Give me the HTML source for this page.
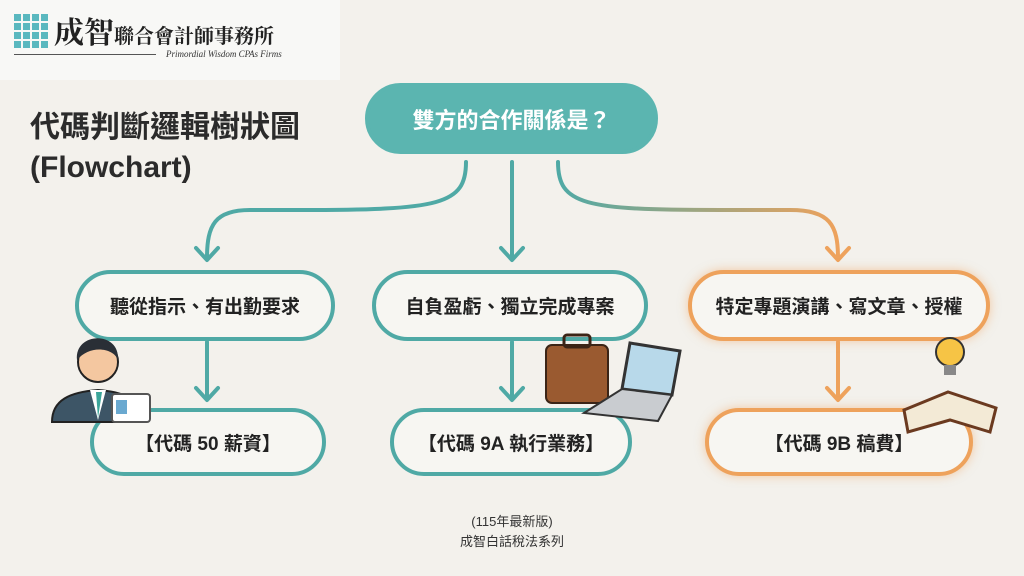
<!DOCTYPE html>
<html><head><meta charset="utf-8"><style>
body{margin:0;width:1024px;height:576px;background:#f3f1ec;font-family:"Liberation Sans","Noto Sans CJK TC",sans-serif;overflow:hidden;position:relative}
.b{position:absolute;box-sizing:border-box;border:4px solid #4fa9a5;border-radius:40px;background:#f7f6f2;display:flex;align-items:center;justify-content:center;font-weight:bold;font-size:19px;color:#222}
.o{border-color:#eea25c;box-shadow:0 0 10px rgba(240,160,90,.5)}
</style></head><body>
<div style="position:absolute;left:0;top:0;width:340px;height:80px;background:#f8f8f6"></div>
<svg style="position:absolute;left:14px;top:14px" width="34" height="34">
<g fill="#5ab8bf">
<rect x="0" y="0" width="7" height="7"/><rect x="9" y="0" width="7" height="7"/><rect x="18" y="0" width="7" height="7"/><rect x="27" y="0" width="7" height="7"/>
<rect x="0" y="9" width="7" height="7"/><rect x="9" y="9" width="7" height="7"/><rect x="18" y="9" width="7" height="7"/><rect x="27" y="9" width="7" height="7"/>
<rect x="0" y="18" width="7" height="7"/><rect x="9" y="18" width="7" height="7"/><rect x="18" y="18" width="7" height="7"/><rect x="27" y="18" width="7" height="7"/>
<rect x="0" y="27" width="7" height="7"/><rect x="9" y="27" width="7" height="7"/><rect x="18" y="27" width="7" height="7"/><rect x="27" y="27" width="7" height="7"/></g></svg>
<div style="position:absolute;left:54px;top:12px;font-family:'Noto Serif CJK SC',serif;font-size:30px;font-weight:bold;color:#222;line-height:36px">成智<span style="font-size:20px">聯合會計師事務所</span></div>
<div style="position:absolute;left:14px;top:54px;width:142px;border-top:1px solid #555"></div>
<div style="position:absolute;left:166px;top:49px;font-family:'Liberation Serif',serif;font-style:italic;font-size:9px;color:#333">Primordial Wisdom CPAs Firms</div>
<div style="position:absolute;left:30px;top:108px;font-size:30px;font-weight:bold;color:#2b2b2b;line-height:40px">代碼判斷邏輯樹狀圖<br>(Flowchart)</div>
<svg style="position:absolute;left:0;top:0" width="1024" height="576">
<defs><linearGradient id="g" x1="0" x2="1"><stop offset="0" stop-color="#4fa9a5"/><stop offset="1" stop-color="#eea25c"/></linearGradient></defs>
<g fill="none" stroke-width="4" stroke-linecap="round" stroke-linejoin="round">
<path d="M466 162 C466 205 440 210 300 210 L250 210 C215 210 207 225 207 258" stroke="#4fa9a5"/>
<path d="M196 248 L207 260 L218 248" stroke="#4fa9a5"/>
<path d="M512 162 L512 258 M501 248 L512 260 L523 248" stroke="#4fa9a5"/>
<path d="M558 162 C558 205 584 210 720 210 L790 210 C830 210 838 225 838 258" stroke="url(#g)"/>
<path d="M827 248 L838 260 L849 248" stroke="#eea25c"/>
<path d="M207 342 L207 398 M196 388 L207 400 L218 388" stroke="#4fa9a5"/>
<path d="M512 342 L512 398 M501 388 L512 400 L523 388" stroke="#4fa9a5"/>
<path d="M838 342 L838 398 M827 388 L838 400 L849 388" stroke="#eea25c"/>
</g></svg>
<div class="b" style="left:365px;top:83px;width:293px;height:71px;background:#5bb5b0;border-color:#5bb5b0;color:#fff;font-size:22px">雙方的合作關係是？</div>
<div class="b" style="left:75px;top:270px;width:260px;height:71px">聽從指示、有出勤要求</div>
<div class="b" style="left:372px;top:270px;width:276px;height:71px">自負盈虧、獨立完成專案</div>
<div class="b o" style="left:688px;top:270px;width:302px;height:71px">特定專題演講、寫文章、授權</div>
<div class="b" style="left:90px;top:408px;width:236px;height:68px">【代碼 50 薪資】</div>
<div class="b" style="left:390px;top:408px;width:242px;height:68px">【代碼 9A 執行業務】</div>
<div class="b o" style="left:705px;top:408px;width:268px;height:68px">【代碼 9B 稿費】</div>
<!-- person -->
<svg style="position:absolute;left:50px;top:322px" width="105" height="105">
<path d="M2 100 C2 78 20 70 48 68 C76 70 92 78 92 100 Z" fill="#3d5566" stroke="#222" stroke-width="2"/>
<path d="M40 68 L48 98 L56 68 Z" fill="#fff"/><path d="M46 70 L48 96 L52 70Z" fill="#3ba59a"/>
<circle cx="48" cy="40" r="20" fill="#f4c7a0" stroke="#222" stroke-width="2"/>
<path d="M27 38 C24 10 70 8 68 38 C64 26 40 22 27 38Z" fill="#2a2f36"/>
<rect x="62" y="72" width="38" height="28" rx="3" fill="#fff" stroke="#555" stroke-width="2"/>
<rect x="66" y="78" width="11" height="14" fill="#6aa9d0"/>
</svg>
<!-- briefcase+laptop -->
<svg style="position:absolute;left:540px;top:325px" width="150" height="100">
<rect x="6" y="20" width="62" height="58" rx="6" fill="#9a5a30" stroke="#3b2416" stroke-width="2"/>
<rect x="24" y="10" width="26" height="12" rx="3" fill="none" stroke="#3b2416" stroke-width="3"/>
<path d="M90 18 L140 26 L132 70 L82 64Z" fill="#b8d9ea" stroke="#333" stroke-width="3"/>
<path d="M82 64 L132 70 L118 96 L44 88Z" fill="#c9ccd0" stroke="#333" stroke-width="2"/>
</svg>
<!-- bulb + book -->
<svg style="position:absolute;left:900px;top:328px" width="100" height="110">
<circle cx="50" cy="24" r="14" fill="#f6c445" stroke="#333" stroke-width="2"/>
<rect x="44" y="37" width="12" height="10" fill="#888"/>
<path d="M4 82 L48 64 L96 80 L90 104 L50 92 L8 104Z" fill="#f3ead6" stroke="#6b3a20" stroke-width="3"/>
</svg>
<div style="position:absolute;left:0;width:1024px;top:512px;text-align:center;font-size:13px;color:#333;line-height:20px">(115年最新版)<br>成智白話稅法系列</div>
</body></html>
